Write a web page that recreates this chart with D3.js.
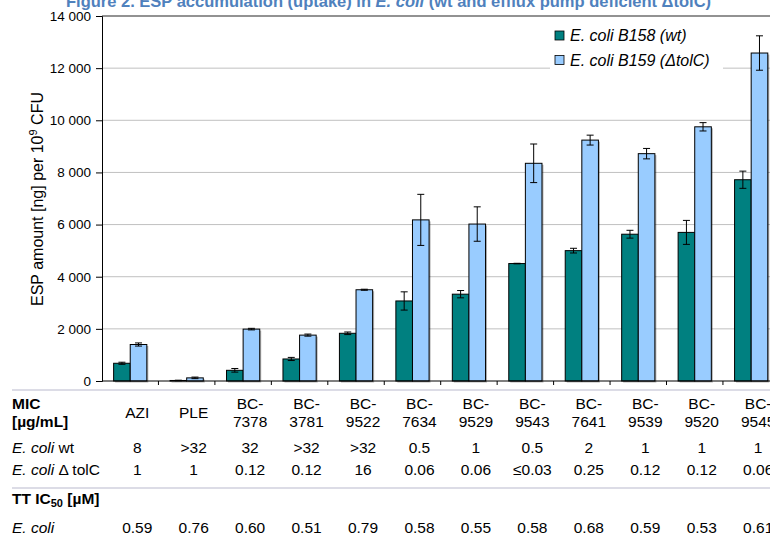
<!DOCTYPE html>
<html>
<head>
<meta charset="utf-8">
<script src="https://cdn.jsdelivr.net/npm/d3@7"></script>
<style>
  body { margin: 0; background: #fff; }
  svg { font-family: "Liberation Sans", Arial, sans-serif; display: block; }
</style>
</head>
<body>
<div id="chart"></div>
<script>
const categories = ["AZI", "PLE", "BC-7378", "BC-3781", "BC-9522", "BC-7634", "BC-9529", "BC-9543", "BC-7641", "BC-9539", "BC-9520", "BC-9545"];
const seriesNames = ["E. coli B158 (wt)", "E. coli B159 (\u0394tolC)"];
const wtValues = [680, 20, 410, 845, 1830, 3070, 3330, 4505, 5000, 5630, 5700, 7720];
const wtErrors = [40, 10, 70, 60, 50, 350, 140, 10, 90, 150, 460, 330];
const tolcValues = [1400, 120, 1990, 1760, 3500, 6180, 6020, 8350, 9240, 8720, 9750, 12580];
const tolcErrors = [60, 30, 30, 40, 20, 980, 660, 740, 190, 200, 160, 660];
const yTicks = [0, 2000, 4000, 6000, 8000, 10000, 12000, 14000];

// table under the chart
const micWt = ["8", ">32", "32", ">32", ">32", "0.5", "1", "0.5", "2", "1", "1", "1"];
const micTolc = ["1", "1", "0.12", "0.12", "16", "0.06", "0.06", "\u22640.03", "0.25", "0.12", "0.12", "0.06"];
const ttIc50 = ["0.59", "0.76", "0.60", "0.51", "0.79", "0.58", "0.55", "0.58", "0.68", "0.59", "0.53", "0.61"];

const colors = ["#008080", "#99ccff"];
let width = 770;
let height = 538;
let left = 102;
let step = 56.45;

let svg = d3.select("#chart")
  .append("svg")
  .attr("width", width)
  .attr("height", height);

let x0 = d3.scaleBand()
  .domain(categories)
  .range([left, left + step * categories.length])
  .padding(0);

let x1 = d3.scaleBand()
  .domain([0, 1])
  .range([0, x0.bandwidth()])
  .paddingInner(0)
  .paddingOuter(0.7);

let y = d3.scaleLinear().domain([0, 14000]).range([381, 16]);

// title (cut at the top of the picture)
svg.append("text")
  .attr("x", 66)
  .attr("y", 7)
  .attr("fill", "#4f81bd")
  .style("font-size", "16.5px")
  .style("font-weight", "bold")
  .call(t => {
    t.append("tspan").text("Figure 2. ESP  accumulation (uptake) in ");
    t.append("tspan").style("font-style", "italic").text("E. coli");
    t.append("tspan").text(" (wt and efflux pump deficient \u0394tolC)");
  });

// gridlines
svg.append("g")
  .selectAll("line")
  .data(yTicks.filter(d => d > 0 && d < 14000))
  .join("line")
  .attr("x1", left)
  .attr("x2", width)
  .attr("y1", d => y(d))
  .attr("y2", d => y(d))
  .attr("stroke", "#c0c0c0")
  .attr("stroke-width", 1);

svg.append("line")
  .attr("x1", left).attr("x2", width)
  .attr("y1", y(14000)).attr("y2", y(14000))
  .attr("stroke", "#6e6e6e")
  .attr("stroke-width", 1.5);

// legend box hides the gridline behind it
let legend = svg.append("g");
legend.append("rect")
  .attr("x", 550).attr("y", 24)
  .attr("width", 173).attr("height", 48)
  .attr("fill", "#fff");
legend.selectAll("g")
  .data(seriesNames)
  .join("g")
  .attr("transform", (d, i) => `translate(555,${31 + i * 24.5})`)
  .each(function (d, i) {
    let g = d3.select(this);
    g.append("rect")
      .attr("width", 9).attr("height", 9)
      .attr("fill", colors[i])
      .attr("stroke", "#000")
      .attr("stroke-width", 0.8);
    g.append("text")
      .attr("x", 15).attr("y", 10)
      .style("font-size", "16px")
      .style("font-style", "italic")
      .text(d);
  });

let series = [
  { values: wtValues, errors: wtErrors },
  { values: tolcValues, errors: tolcErrors },
];

// bars with a soft shadow
series.forEach((s, i) => {
  let g = svg.append("g");
  g.selectAll("rect.shadow")
    .data(categories)
    .join("rect")
    .attr("class", "shadow")
    .attr("x", d => x0(d) + x1(i) + 1.5)
    .attr("y", (d, j) => y(s.values[j]) + 1.5)
    .attr("width", x1.bandwidth())
    .attr("height", (d, j) => y(0) - y(s.values[j]))
    .attr("fill", "#000")
    .attr("opacity", 0.3);
  g.selectAll("rect.bar")
    .data(categories)
    .join("rect")
    .attr("class", "bar")
    .attr("x", d => x0(d) + x1(i))
    .attr("y", (d, j) => y(s.values[j]))
    .attr("width", x1.bandwidth())
    .attr("height", (d, j) => y(0) - y(s.values[j]))
    .attr("fill", colors[i])
    .attr("stroke", "#000")
    .attr("stroke-width", 1);
});

// error bars
series.forEach((s, i) => {
  let g = svg.append("g").attr("stroke", "#000").attr("stroke-width", 1);
  categories.forEach((c, j) => {
    let cx = x0(c) + x1(i) + x1.bandwidth() / 2;
    let hi = y(s.values[j] + s.errors[j]);
    let lo = y(Math.max(0, s.values[j] - s.errors[j]));
    g.append("line").attr("x1", cx).attr("x2", cx).attr("y1", hi).attr("y2", lo);
    g.append("line").attr("x1", cx - 3.5).attr("x2", cx + 3.5).attr("y1", hi).attr("y2", hi);
    g.append("line").attr("x1", cx - 3.5).attr("x2", cx + 3.5).attr("y1", lo).attr("y2", lo);
  });
});

// y axis
let yAxis = d3.axisLeft(y)
  .tickValues(yTicks)
  .tickSize(6)
  .tickFormat(d => d3.format(",")(d).replace(",", " "));
svg.append("g")
  .attr("transform", `translate(${left},0)`)
  .call(yAxis)
  .call(g => g.select(".domain").attr("stroke", "#000"))
  .call(g => g.selectAll(".tick text").attr("x", -11).style("font-size", "13.5px").attr("fill", "#000"));

// x axis, ticks between groups
svg.append("line")
  .attr("x1", left).attr("x2", width)
  .attr("y1", y(0)).attr("y2", y(0))
  .attr("stroke", "#000");
svg.append("g")
  .selectAll("line")
  .data(categories)
  .join("line")
  .attr("x1", d => x0(d) + step)
  .attr("x2", d => x0(d) + step)
  .attr("y1", y(0))
  .attr("y2", y(0) + 4)
  .attr("stroke", "#000");

// y axis title
svg.append("text")
  .attr("transform", "translate(43,199) rotate(-90)")
  .attr("text-anchor", "middle")
  .style("font-size", "16px")
  .call(t => {
    t.append("tspan").text("ESP amount [ng] per 10");
    t.append("tspan").attr("dy", -6).style("font-size", "11px").text("9");
    t.append("tspan").attr("dy", 6).text(" CFU");
  });

// table
let table = svg.append("g").style("font-size", "15.5px");
let colX = d => x0(d) + x0.bandwidth() / 2 + 7;

table.selectAll("line")
  .data([390, 488])
  .join("line")
  .attr("x1", 12).attr("x2", width)
  .attr("y1", d => d).attr("y2", d => d)
  .attr("stroke", "#dcdce6")
  .attr("stroke-width", 2);

table.append("text").attr("x", 12).attr("y", 409).style("font-weight", "bold").text("MIC");
table.append("text").attr("x", 12).attr("y", 427).style("font-weight", "bold").text("[\u00b5g/mL]");

table.append("g")
  .selectAll("text")
  .data(categories)
  .join("text")
  .attr("text-anchor", "middle")
  .attr("x", colX)
  .each(function (d) {
    let t = d3.select(this);
    let parts = d.split("-");
    if (parts.length === 1) {
      t.attr("y", 418).text(d);
    } else {
      t.append("tspan").attr("x", colX(d)).attr("y", 409).text(parts[0] + "-");
      t.append("tspan").attr("x", colX(d)).attr("y", 427).text(parts[1]);
    }
  });

let rows = [
  { y: 453, values: micWt, label: [["E. coli", true], [" wt", false]] },
  { y: 475, values: micTolc, label: [["E. coli", true], [" \u0394 tolC", false]] },
  { y: 533, values: ttIc50, label: [["E. coli", true]] },
];

rows.forEach(r => {
  let lab = table.append("text").attr("x", 12).attr("y", r.y);
  r.label.forEach(p => lab.append("tspan").style("font-style", p[1] ? "italic" : "normal").text(p[0]));
  table.append("g")
    .selectAll("text")
    .data(r.values)
    .join("text")
    .attr("text-anchor", "middle")
    .attr("x", (d, i) => colX(categories[i]))
    .attr("y", r.y)
    .text(d => d);
});

table.append("text")
  .attr("x", 12).attr("y", 504)
  .style("font-weight", "bold")
  .call(t => {
    t.append("tspan").text("TT IC");
    t.append("tspan").attr("dy", 3).style("font-size", "11px").text("50");
    t.append("tspan").attr("dy", -3).text(" [\u00b5M]");
  });
</script>
</body>
</html>
